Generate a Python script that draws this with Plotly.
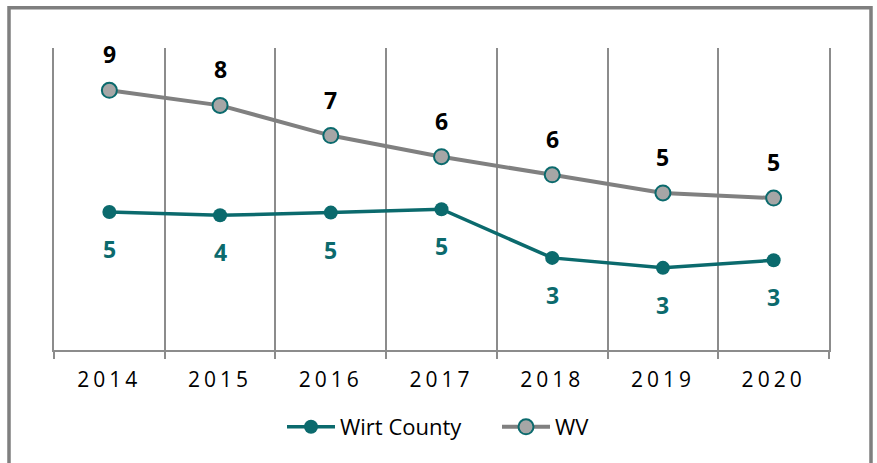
import plotly.graph_objects as go

years = ["2014", "2015", "2016", "2017", "2018", "2019", "2020"]
wirt = [4.57, 4.46, 4.55, 4.66, 3.05, 2.72, 2.97]
wv = [8.6, 8.1, 7.1, 6.4, 5.8, 5.2, 5.03]

TEAL = "#0b6a6d"
GRAY = "#808080"
GRID = "#8c8c8c"
FONT = "Open Sans"

fig = go.Figure()
fig.add_trace(go.Scatter(
    x=years, y=wirt, name="Wirt County", mode="lines+markers",
    line=dict(color=TEAL, width=3.5),
    marker=dict(size=14, color=TEAL, line=dict(width=0)),
))
fig.add_trace(go.Scatter(
    x=years, y=wv, name="WV", mode="lines+markers",
    line=dict(color=GRAY, width=4),
    marker=dict(size=15, color="#a6a6a6", line=dict(color=TEAL, width=2)),
))

for i, y in enumerate(wv):
    fig.add_annotation(x=i, y=y, xref="x", yref="y", text="<b>%d</b>" % round(y),
                       showarrow=False, yshift=36,
                       font=dict(family=FONT, size=23, color="#000000"))
for i, y in enumerate(wirt):
    fig.add_annotation(x=i, y=y, xref="x", yref="y", text="<b>%d</b>" % round(y),
                       showarrow=False, yshift=-37,
                       font=dict(family=FONT, size=23, color=TEAL))

L, R, T, B = 54, 48, 48, 113
W, H = 877, 463
pw, ph = W - L - R, H - T - B

def px_to_paper_x(px):
    return (px - L) / pw

def px_to_paper_y(py):
    return (H - B - py) / ph

fig.add_shape(type="rect", xref="paper", yref="paper",
              x0=px_to_paper_x(9), x1=px_to_paper_x(871),
              y0=px_to_paper_y(480), y1=px_to_paper_y(7.7),
              line=dict(color="#7f7f7f", width=3.5), fillcolor="rgba(0,0,0,0)", layer="below")

fig.update_layout(
    width=W, height=H,
    margin=dict(l=L, r=R, t=T, b=B),
    paper_bgcolor="white", plot_bgcolor="white",
    showlegend=True,
    legend=dict(orientation="h", x=px_to_paper_x(282), xanchor="left", y=px_to_paper_y(427), yanchor="middle",
                font=dict(family=FONT, size=22, color="#000000"), itemwidth=48,
                entrywidth=152, tracegroupgap=0),
    xaxis=dict(type="category", tickson="boundaries", showgrid=True, gridcolor=GRID, gridwidth=2,
               showline=True, linecolor=GRID, linewidth=2, ticks="outside", ticklen=7,
               tickcolor=GRID, tickwidth=2, ticklabelstandoff=10,
               tickfont=dict(family=FONT, size=21, color="#000000"),
               range=[-0.5, 6.5], fixedrange=True),
    yaxis=dict(range=[0, 10], showgrid=False, showticklabels=False, zeroline=False,
               showline=True, mirror=True, linecolor=GRID, linewidth=2, ticks="",
               fixedrange=True),
)

fig.write_html("out.html", config={"displayModeBar": False}, post_script="""
var st=document.createElement('style');
st.innerHTML='body{margin:0 !important;} .xtick text{letter-spacing:4px;}';
document.head.appendChild(st);
""")
